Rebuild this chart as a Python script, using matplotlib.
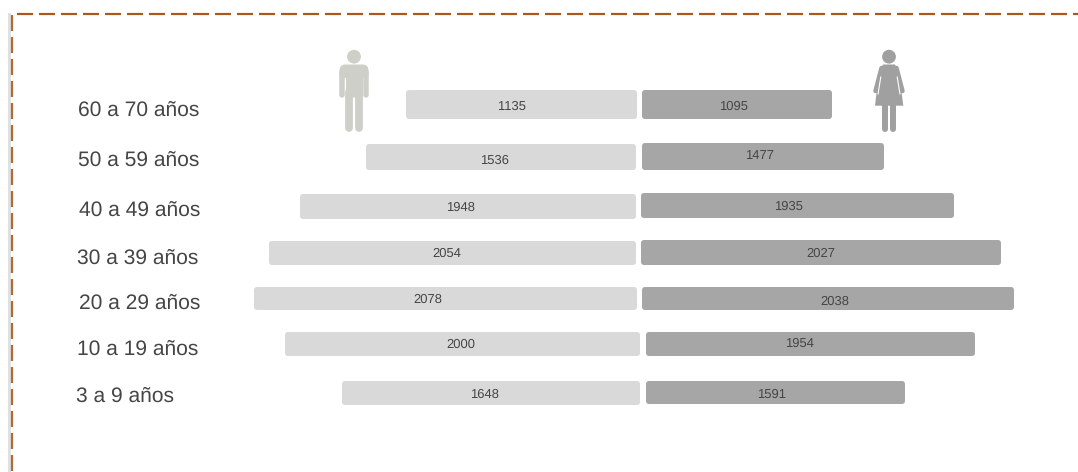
import matplotlib
matplotlib.use('Agg')
import matplotlib.pyplot as plt
from matplotlib.patches import FancyBboxPatch, Circle, Polygon

plt.rcParams['font.family'] = ['Liberation Sans', 'DejaVu Sans']
plt.rcParams['text.hinting'] = 'no_hinting'
plt.rcParams['text.hinting_factor'] = 1

# age groups, top to bottom
grupos = ['60 a 70 años', '50 a 59 años', '40 a 49 años', '30 a 39 años',
          '20 a 29 años', '10 a 19 años', '3 a 9 años']
# printed numbers
hombres = [1135, 1536, 1948, 2054, 2078, 2000, 1648]
mujeres = [1095, 1477, 1935, 2027, 2038, 1954, 1591]
# bar lengths as actually drawn in the picture (not proportional to the numbers)
largo_h = [231, 270, 336, 367, 383, 355, 298]
largo_m = [190, 242, 313, 360, 372, 329, 259]

# layout, in pixels
base_h = [637, 636, 636, 636, 637, 640, 640]
base_m = [642, 642, 641, 641, 642, 646, 646]
top_h = [90, 144, 194, 241, 287, 332, 381]
top_m = [90, 143, 193, 240, 287, 332, 381]
alto_h = [29, 26, 25, 24, 23, 24, 24]
alto_m = [29, 27, 25, 25, 23, 24, 23]
label_x = [78, 78, 79, 77, 79, 77, 76]
label_y = [110, 160, 210, 258, 303, 349, 396]
num_h_x = [511, 494, 460, 447, 428, 461, 484]
num_m_x = [733, 759, 788, 821, 835, 799, 771]
num_h_y = [107, 161, 208, 254, 300, 345, 395]
num_m_y = [107, 156, 207, 254, 302, 344, 395]

GRIS_H = '#d9d9d9'
GRIS_M = '#a6a6a6'
TEXTO = '#454545'
PT = 72 / 100  # px to points at dpi 100

fig = plt.figure(figsize=(10.78, 4.72), dpi=100)
ax = fig.add_axes([0, 0, 1, 1])
ax.set_xlim(0, 1078)
ax.set_ylim(472, 0)
ax.axis('off')


def barra(x0, y0, w, h, color):
    ax.add_patch(FancyBboxPatch((x0 + 3, y0 + 3), w - 6, h - 6,
                                boxstyle='round,pad=3,rounding_size=3',
                                fc=color, ec='none'))


def linea(xs, ys, ancho, color, z=3):
    ax.plot(xs, ys, color=color, lw=ancho * PT, solid_capstyle='round', zorder=z)


# frame
ax.plot([9, 9], [14, 472], color='#e0e0e0', lw=3 * PT)
ax.plot([17, 1078], [14, 14], color='#a9591f', lw=2.2 * PT, dashes=(16 / 2.2, 6 / 2.2))
ax.plot([11.5, 11.5], [15, 472], color='#b06a35', lw=2.2 * PT, dashes=(16 / 2.2, 6 / 2.2))

for i, g in enumerate(grupos):
    barra(base_h[i] - largo_h[i], top_h[i], largo_h[i], alto_h[i], GRIS_H)
    barra(base_m[i], top_m[i], largo_m[i], alto_m[i], GRIS_M)
    ax.text(label_x[i], label_y[i], g, fontsize=15.35, color=TEXTO, ha='left', va='center')
    ax.text(num_h_x[i], num_h_y[i], str(hombres[i]), fontsize=9.2,
            color=TEXTO, ha='center', va='center')
    ax.text(num_m_x[i], num_m_y[i], str(mujeres[i]), fontsize=9.2,
            color=TEXTO, ha='center', va='center')

# man icon
C_H = '#cfcfca'
ax.add_patch(Circle((354, 56.7), 6.9, fc=C_H, ec='none'))
ax.add_patch(FancyBboxPatch((346, 71), 16, 20, boxstyle='round,pad=6.5,rounding_size=6',
                            fc=C_H, ec='none', zorder=2))
ax.add_patch(Polygon([[338, 78], [345.5, 78], [345.5, 99], [338, 99]], fc='white', ec='none', zorder=2.5))
ax.add_patch(Polygon([[362.5, 78], [370, 78], [370, 99], [362.5, 99]], fc='white', ec='none', zorder=2.5))
linea([342, 342], [72, 95], 5.5, C_H)
linea([366, 366], [72, 95], 5.5, C_H)
linea([349.2, 349.2], [92, 128], 7.8, C_H)
linea([358.8, 358.8], [92, 128], 7.8, C_H)

# woman icon
C_M = '#a0a0a0'
ax.add_patch(Circle((889, 56.7), 6.9, fc=C_M, ec='none'))
ax.add_patch(Polygon([[883, 64.5], [895, 64.5], [899, 72], [903.3, 105.7], [875, 105.7], [879, 72]],
                     fc=C_M, ec='none'))
linea([881.5, 875.5], [68, 91], 4.5, C_M)
linea([896.5, 902.5], [68, 91], 4.5, C_M)
ax.plot([880.8, 878], [77, 94], color='white', lw=1.1 * PT, zorder=4)
ax.plot([897.2, 900], [77, 94], color='white', lw=1.1 * PT, zorder=4)
linea([885.3, 885.3], [104, 129], 6, C_M)
linea([892.9, 892.9], [104, 129], 6, C_M)

fig.savefig('out.png', dpi=100)
plt.close()
